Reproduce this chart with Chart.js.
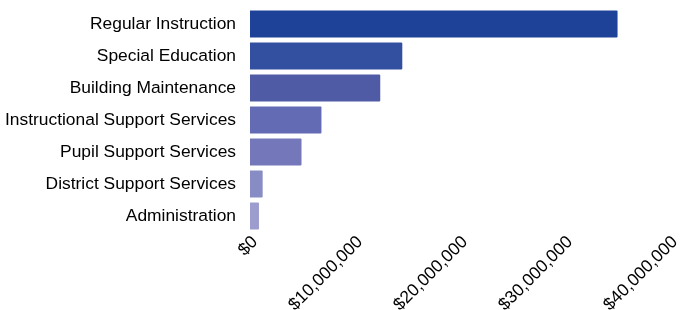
<!DOCTYPE html>
<html>
<head>
<meta charset="utf-8">
<script src="https://cdn.jsdelivr.net/npm/chart.js@4"></script>
<style>
  html, body { margin: 0; padding: 0; background: #fff; }
  #wrap { width: 680px; height: 310px; }
</style>
</head>
<body>
<div id="wrap"><canvas id="spendChart"></canvas></div>
<script>
// spending by category
const categories = [
  'Regular Instruction',
  'Special Education',
  'Building Maintenance',
  'Instructional Support Services',
  'Pupil Support Services',
  'District Support Services',
  'Administration'
];
const spending = [35100000, 14600000, 12500000, 6900000, 5000000, 1300000, 950000];
const xTicks = [0, 10000000, 20000000, 30000000, 40000000];

const barColors = [
  'rgb(31, 66, 153)',
  'rgb(51, 80, 160)',
  'rgb(80, 91, 166)',
  'rgb(99, 107, 180)',
  'rgb(116, 120, 187)',
  'rgb(136, 140, 197)',
  'rgb(156, 156, 206)'
];

Chart.defaults.font.family = '"Liberation Sans", Arial, Helvetica, sans-serif';
Chart.defaults.font.size = 17.4;
Chart.defaults.color = '#000';

const ctx = document.getElementById('spendChart');

new Chart(ctx, {
  type: 'bar',
  data: {
    labels: categories,
    datasets: [{
      data: spending,
      backgroundColor: barColors,
      borderColor: 'rgba(255,255,255,0.45)',
      borderWidth: 1,
      borderRadius: 2,
      borderSkipped: 'start',
      barPercentage: 0.9,
      categoryPercentage: 1.0
    }]
  },
  options: {
    indexAxis: 'y',
    responsive: true,
    maintainAspectRatio: false,
    animation: false,
    layout: { padding: { top: 8, right: 10, left: 0, bottom: 0 } },
    plugins: {
      legend: { display: false },
      tooltip: { enabled: false }
    },
    scales: {
      x: {
        min: 0,
        max: 40000000,
        afterBuildTicks: (axis) => {
          axis.ticks = xTicks.map(v => ({ value: v }));
        },
        afterFit: (axis) => {
          axis.height = 78;
          axis.paddingLeft = 0;
          axis.paddingRight = 0;
        },
        grid: { display: false, drawTicks: false },
        border: { display: false },
        ticks: {
          minRotation: 45,
          maxRotation: 45,
          labelOffset: 5,
          padding: 0,
          callback: (v) => '$' + Number(v).toLocaleString('en-US')
        }
      },
      y: {
        afterFit: (axis) => {
          axis.width = 250;
          axis.paddingTop = 0;
          axis.paddingBottom = 0;
        },
        grid: { display: false, drawTicks: false },
        border: { display: false },
        ticks: { padding: 14 }
      }
    }
  }
});
</script>
</body>
</html>
